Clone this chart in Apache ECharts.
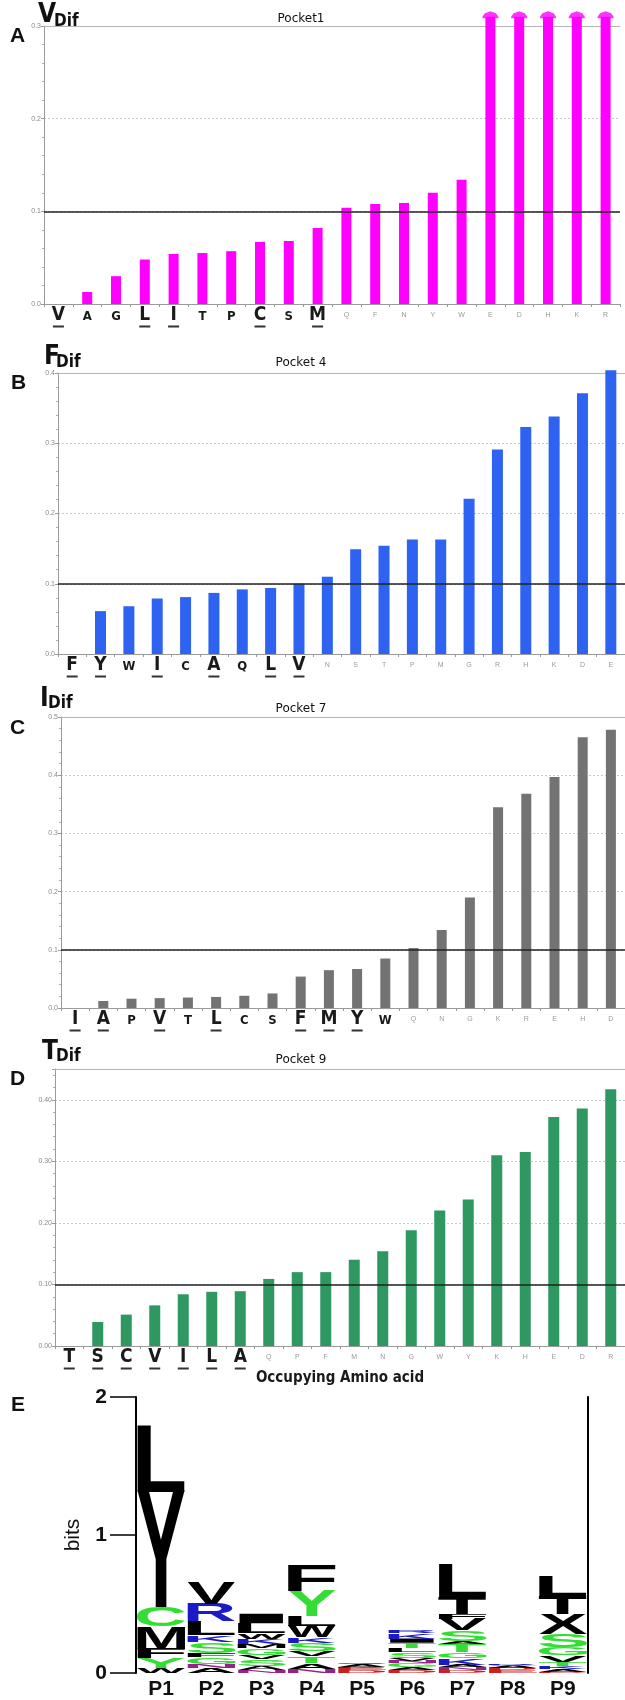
<!DOCTYPE html>
<html>
<head>
<meta charset="utf-8">
<script src="https://cdn.jsdelivr.net/npm/echarts@6/dist/echarts.min.js"></script>
<style>
  html, body { margin: 0; padding: 0; background: #fff; }
  #chart { width: 625px; height: 1700px; }
</style>
</head>
<body>
<div id="chart"></div>
<script>
// ---- panel A : pocket 1 (V dif) ----
const catsA = ['V', 'A', 'G', 'L', 'I', 'T', 'P', 'C', 'S', 'M', 'Q', 'F', 'N', 'Y', 'W', 'E', 'D', 'H', 'K', 'R'];
const valsA = [0, 0.013, 0.030, 0.048, 0.054, 0.055, 0.057, 0.067, 0.068, 0.082, 0.104, 0.108, 0.109, 0.120, 0.134, 0.31, 0.31, 0.31, 0.31, 0.31];
const underA = ['V', 'L', 'I', 'C', 'M'];
const midA = ['A', 'G', 'T', 'P', 'S'];

// ---- panel B : pocket 4 (F dif) ----
const catsB = ['F', 'Y', 'W', 'I', 'C', 'A', 'Q', 'L', 'V', 'N', 'S', 'T', 'P', 'M', 'G', 'R', 'H', 'K', 'D', 'E'];
const valsB = [0, 0.061, 0.068, 0.079, 0.081, 0.087, 0.092, 0.094, 0.100, 0.110, 0.149, 0.154, 0.163, 0.163, 0.221, 0.291, 0.323, 0.338, 0.371, 0.404];
const underB = ['F', 'Y', 'I', 'A', 'L', 'V'];
const midB = ['W', 'C', 'Q'];

// ---- panel C : pocket 7 (I dif) ----
const catsC = ['I', 'A', 'P', 'V', 'T', 'L', 'C', 'S', 'F', 'M', 'Y', 'W', 'Q', 'N', 'G', 'K', 'R', 'E', 'H', 'D'];
const valsC = [0, 0.012, 0.016, 0.017, 0.018, 0.019, 0.021, 0.025, 0.054, 0.065, 0.067, 0.085, 0.103, 0.134, 0.190, 0.345, 0.368, 0.397, 0.465, 0.478];
const underC = ['I', 'A', 'V', 'L', 'F', 'M', 'Y'];
const midC = ['P', 'T', 'C', 'S', 'W'];

// ---- panel D : pocket 9 (T dif) ----
const catsD = ['T', 'S', 'C', 'V', 'I', 'L', 'A', 'Q', 'P', 'F', 'M', 'N', 'G', 'W', 'Y', 'K', 'H', 'E', 'D', 'R'];
const valsD = [0, 0.039, 0.051, 0.066, 0.084, 0.088, 0.089, 0.109, 0.120, 0.120, 0.140, 0.154, 0.188, 0.220, 0.238, 0.310, 0.315, 0.372, 0.386, 0.417];
const underD = ['T', 'S', 'C', 'V', 'I', 'L', 'A'];
const midD = [];

const threshold = 0.1;

// ---- panel E : sequence logo, stacks bottom -> top [letter, bits, colour] ----
const logoPositions = ['P1', 'P2', 'P3', 'P4', 'P5', 'P6', 'P7', 'P8', 'P9'];
const logoP1 = [['W', 0.035, 'k'], ['Y', 0.07, 'g'], ['F', 0.07, 'k'], ['M', 0.16, 'k'], ['C', 0.14, 'g'], ['Y', 0.84, 'k'], ['L', 0.48, 'k']];
const logoP2 = [['A', 0.035, 'k'], ['N', 0.03, 'p'], ['G', 0.05, 'g'], ['F', 0.03, 'k'], ['S', 0.08, 'g'], ['K', 0.05, 'b'], ['L', 0.10, 'k'], ['R', 0.125, 'b'], ['V', 0.155, 'k']];
const logoP3 = [['N', 0.02, 'p'], ['A', 0.03, 'k'], ['S', 0.05, 'g'], ['V', 0.03, 'k'], ['G', 0.05, 'g'], ['M', 0.03, 'k'], ['K', 0.04, 'b'], ['W', 0.04, 'k'], ['L', 0.07, 'k'], ['I', 0.07, 'k']];
const logoP4 = [['N', 0.03, 'p'], ['A', 0.04, 'k'], ['T', 0.05, 'g'], ['V', 0.04, 'k'], ['S', 0.06, 'g'], ['K', 0.04, 'b'], ['W', 0.08, 'k'], ['L', 0.07, 'k'], ['Y', 0.18, 'g'], ['F', 0.19, 'k']];
const logoP5 = [['D', 0.02, 'r'], ['E', 0.015, 'r'], ['K', 0.01, 'b'], ['A', 0.015, 'k'], ['Q', 0.01, 'p']];
const logoP6 = [['D', 0.02, 'r'], ['A', 0.02, 'k'], ['G', 0.03, 'g'], ['N', 0.02, 'p'], ['V', 0.02, 'k'], ['S', 0.04, 'g'], ['L', 0.03, 'k'], ['T', 0.04, 'g'], ['I', 0.03, 'k'], ['K', 0.04, 'b'], ['R', 0.02, 'b']];
const logoP7 = [['D', 0.02, 'r'], ['N', 0.02, 'p'], ['A', 0.02, 'k'], ['K', 0.05, 'b'], ['G', 0.04, 'g'], ['T', 0.06, 'g'], ['A', 0.02, 'k'], ['S', 0.08, 'g'], ['V', 0.08, 'k'], ['F', 0.04, 'k'], ['T', 0.12, 'k'], ['L', 0.24, 'k']];
const logoP8 = [['E', 0.02, 'r'], ['D', 0.015, 'r'], ['A', 0.015, 'k'], ['G', 0.01, 'g'], ['R', 0.01, 'b']];
const logoP9 = [['D', 0.01, 'r'], ['A', 0.02, 'k'], ['K', 0.02, 'b'], ['T', 0.03, 'g'], ['V', 0.05, 'k'], ['G', 0.06, 'g'], ['S', 0.09, 'g'], ['X', 0.15, 'k'], ['T', 0.13, 'k'], ['L', 0.15, 'k']];
const logoStacks = [logoP1, logoP2, logoP3, logoP4, logoP5, logoP6, logoP7, logoP8, logoP9];

const logoColors = { k: '#000000', g: '#33dd33', b: '#1a1ac8', r: '#cc1f1f', p: '#9a1f8c' };

const NARROW = '"Liberation Sans Narrow", "DejaVu Sans Condensed", "Liberation Sans", sans-serif';
const SANS = '"Liberation Sans", Arial, sans-serif';
const LOGO_FONT = 'bold 100px "Liberation Sans", Arial, sans-serif';

// glyph bounds used to stretch each logo letter into its box
const measureCtx = document.createElement('canvas').getContext('2d');
measureCtx.font = LOGO_FONT;
measureCtx.textBaseline = 'middle';
measureCtx.textAlign = 'left';
const glyphCache = {};
function glyphBox(ch) {
  if (!glyphCache[ch]) {
    const m = measureCtx.measureText(ch);
    glyphCache[ch] = {
      l: m.actualBoundingBoxLeft, r: m.actualBoundingBoxRight,
      a: m.actualBoundingBoxAscent, d: m.actualBoundingBoxDescent
    };
  }
  return glyphCache[ch];
}

const logoItems = [];
logoStacks.forEach((stack, pos) => {
  let base = 0;
  stack.forEach(([letter, h, col]) => {
    logoItems.push({ value: [pos, base, base + h], letter: letter, color: logoColors[col] });
    base += h;
  });
});

function renderLetter(params, api) {
  const it = logoItems[params.dataIndex];
  const lo = api.coord([api.value(0), api.value(1)]);
  const hi = api.coord([api.value(0), api.value(2)]);
  const band = api.size([1, 0])[0];
  const x0 = lo[0] - band * 0.48;
  const x1 = lo[0] + band * 0.48;
  const g = glyphBox(it.letter);
  const sx = (x1 - x0) / (g.l + g.r);
  const sy = (lo[1] - hi[1]) / (g.a + g.d);
  return {
    type: 'text',
    x: x0 + sx * g.l,
    y: hi[1] + sy * g.a,
    scaleX: sx,
    scaleY: sy,
    style: {
      text: it.letter, x: 0, y: 0, font: LOGO_FONT, fill: it.color,
      textAlign: 'left', textVerticalAlign: 'middle'
    }
  };
}

function labelFormatter(under, mid) {
  return function (v) {
    if (under.indexOf(v) >= 0) return '{big|' + v + '}\n{ul| }';
    if (mid.indexOf(v) >= 0) return '{mid|' + v + '}\n{gap| }';
    return '{tiny|' + v + '}\n{gap| }';
  };
}

const catRich = {
  big: { fontFamily: NARROW, fontWeight: 'bold', fontSize: 19, color: '#1a1a1a', lineHeight: 18 },
  mid: { fontFamily: NARROW, fontWeight: 'bold', fontSize: 13, color: '#1a1a1a', lineHeight: 18, padding: [3, 0, 0, 0] },
  tiny: { fontFamily: SANS, fontSize: 7, color: '#9a9a9a', lineHeight: 18 },
  ul: { width: 11, height: 2, backgroundColor: '#333', lineHeight: 5, fontSize: 1 },
  gap: { lineHeight: 5, fontSize: 1 }
};

const panels = [
  { cats: catsA, vals: valsA, under: underA, mid: midA, color: '#ff00ff', barWidth: 10, max: 0.3, digits: 1,
    grid: { left: 44, top: 26, width: 576, height: 278 } },
  { cats: catsB, vals: valsB, under: underB, mid: midB, color: '#2e63f2', barWidth: 11, max: 0.4, digits: 1,
    grid: { left: 58, top: 373, width: 567, height: 281 } },
  { cats: catsC, vals: valsC, under: underC, mid: midC, color: '#737373', barWidth: 10, max: 0.5, digits: 1,
    grid: { left: 61, top: 717, width: 564, height: 291 } },
  { cats: catsD, vals: valsD, under: underD, mid: midD, color: '#2f9760', barWidth: 11, max: 0.45, digits: 2,
    grid: { left: 55, top: 1069, width: 570, height: 277 } }
];

const grids = [];
const xAxes = [];
const yAxes = [];
const series = [];

panels.forEach((p, i) => {
  grids.push(p.grid);
  xAxes.push({
    type: 'category', gridIndex: i, data: p.cats,
    axisLine: { lineStyle: { color: '#9a9a9a', width: 1 } },
    axisTick: { show: true, interval: 0, length: 3, lineStyle: { color: '#9a9a9a' } },
    axisLabel: { interval: 0, margin: 2, formatter: labelFormatter(p.under, p.mid), rich: catRich },
    name: i === 3 ? 'Occupying Amino acid' : '',
    nameLocation: 'middle', nameGap: 23,
    nameTextStyle: { fontFamily: NARROW, fontWeight: 'bold', fontSize: 15, color: '#1a1a1a' }
  });
  xAxes.push({
    type: 'category', gridIndex: i, data: p.cats, position: 'top',
    axisLine: { lineStyle: { color: '#b5b5b5', width: 1.2 } },
    axisTick: { show: false }, axisLabel: { show: false }, splitLine: { show: false }
  });
  yAxes.push({
    type: 'value', gridIndex: i, min: 0, max: p.max, interval: 0.1,
    axisLine: { show: true, lineStyle: { color: '#9a9a9a', width: 1 } },
    axisTick: { show: true, length: 3, lineStyle: { color: '#9a9a9a' } },
    minorTick: { show: true, splitNumber: 5, length: 2, lineStyle: { color: '#b0b0b0' } },
    axisLabel: {
      fontSize: 7, color: '#8a8a8a', margin: 3, showMaxLabel: p.max !== 0.45,
      formatter: v => v.toFixed(p.digits)
    },
    splitLine: { show: true, lineStyle: { color: '#c8c8c8', type: [2, 2], width: 1 } }
  });
  series.push({
    type: 'bar', xAxisIndex: i * 2, yAxisIndex: i, data: p.vals,
    barWidth: p.barWidth, clip: false,
    itemStyle: { color: p.color },
    markLine: {
      silent: true, symbol: 'none', label: { show: false },
      lineStyle: { color: '#222', width: 1.6, type: 'solid' },
      data: [{ yAxis: threshold }]
    }
  });
});

// off-scale caps on the pocket-1 bars
series.push({
  type: 'scatter', xAxisIndex: 0, yAxisIndex: 0, clip: false,
  symbol: 'path://M0,8 L3,3 L10,0 L17,3 L20,8 L20,10 L0,10 Z',
  symbolSize: [16, 7], symbolOffset: [0, -2],
  itemStyle: { color: '#ff00ff' },
  data: catsA.map((c, k) => [c, valsA[k]]).filter(d => d[1] > 0.3)
});

// logo grid
grids.push({ left: 136, top: 1397, width: 452, height: 280 });
xAxes.push({
  type: 'category', gridIndex: 4, data: logoPositions,
  axisLine: { show: false }, axisTick: { show: false },
  axisLabel: { margin: 6, fontFamily: SANS, fontWeight: 'bold', fontSize: 21, color: '#111' }
});
yAxes.push({
  type: 'value', gridIndex: 4, min: 0, max: 2, interval: 1,
  axisLine: { show: true, lineStyle: { color: '#000', width: 2 } },
  axisTick: { show: true, length: 26, lineStyle: { color: '#000', width: 1.5 } },
  axisLabel: { margin: 29, fontFamily: SANS, fontWeight: 'bold', fontSize: 21, color: '#111' },
  splitLine: { show: false },
  name: 'bits', nameLocation: 'middle', nameGap: 52, nameRotate: 90,
  nameTextStyle: { fontFamily: SANS, fontSize: 21, color: '#111' }
});
yAxes.push({
  type: 'value', gridIndex: 4, min: 0, max: 2, position: 'right',
  axisLine: { show: true, lineStyle: { color: '#000', width: 2 } },
  axisTick: { show: false }, axisLabel: { show: false }, splitLine: { show: false }
});
series.push({
  type: 'custom', xAxisIndex: 8, yAxisIndex: 4, renderItem: renderLetter,
  data: logoItems.map(d => d.value), silent: true
});

function headText(x, y, text, font, align) {
  return {
    type: 'text', x: x, y: y, silent: true,
    style: { text: text, font: font, fill: '#111', textAlign: align || 'left', textVerticalAlign: 'middle' }
  };
}
const letterFont = 'bold 21px ' + SANS;
const symFont = 'bold 26px ' + NARROW;
const subFont = 'bold 17px ' + NARROW;
const pocketFont = '12px "DejaVu Sans", sans-serif';

const graphics = [
  headText(10, 36, 'A', letterFont), headText(38, 15, 'V', symFont), headText(54, 22, 'Dif', subFont),
  headText(301, 19, 'Pocket1', pocketFont, 'center'),
  headText(11, 383, 'B', letterFont), headText(44, 357, 'F', symFont), headText(56, 363, 'Dif', subFont),
  headText(301, 363, 'Pocket 4', pocketFont, 'center'),
  headText(10, 728, 'C', letterFont), headText(40, 699, 'I', symFont), headText(48, 704, 'Dif', subFont),
  headText(301, 709, 'Pocket 7', pocketFont, 'center'),
  headText(10, 1079, 'D', letterFont), headText(42, 1052, 'T', symFont), headText(56, 1057, 'Dif', subFont),
  headText(301, 1060, 'Pocket 9', pocketFont, 'center'),
  headText(11, 1405, 'E', letterFont)
];

const chart = echarts.init(document.getElementById('chart'), null, { renderer: 'canvas' });
chart.setOption({
  animation: false,
  backgroundColor: '#ffffff',
  grid: grids,
  xAxis: xAxes,
  yAxis: yAxes,
  series: series,
  graphic: graphics
});
</script>
</body>
</html>
